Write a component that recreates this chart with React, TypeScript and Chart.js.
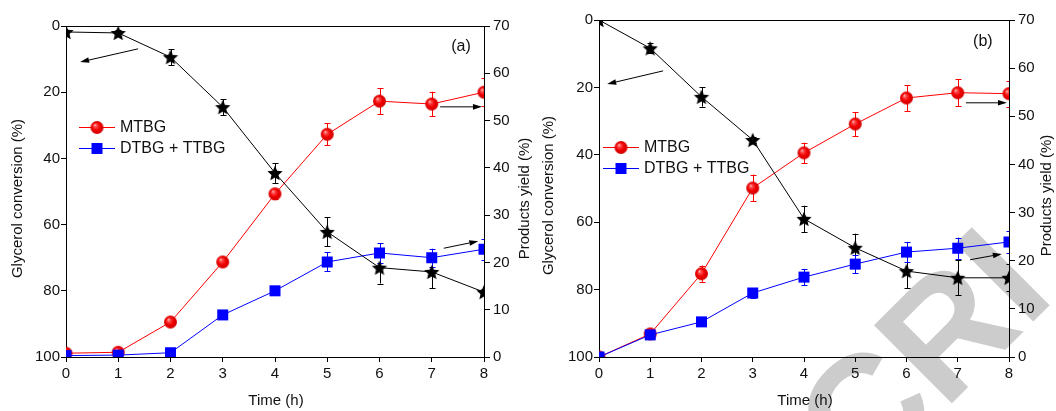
import React, { useEffect, useRef } from "react";
import { Chart, registerables } from "chart.js";
Chart.register(...registerables);

const FONT = "'Liberation Sans', Arial, Helvetica, sans-serif";

// ---------- DATA ----------
const times = [0, 1, 2, 3, 4, 5, 6, 7, 8];
const leftTicks = [0, 20, 40, 60, 80, 100];
const rightTicks = [0, 10, 20, 30, 40, 50, 60, 70];
const seriesNames = ["MTBG", "DTBG + TTBG"];

// Panel (a)
const convA = [1.8, 2.1, 9.4, 24.5, 44.4, 62.2, 73.0, 74.3, 80.4];
const convAErr = [0.5, 0.8, 2.4, 2.4, 3.0, 4.4, 4.8, 5.0, 1.0];
const mtbgA = [0.8, 1.0, 7.4, 20.1, 34.5, 47.1, 54.1, 53.5, 56.0];
const mtbgAErr = [0.3, 0.3, 0.5, 0.8, 1.0, 2.3, 2.8, 2.6, 2.9];
const dtbgA = [0.3, 0.4, 0.9, 8.9, 14.0, 20.1, 22.0, 21.0, 22.8];
const dtbgAErr = [0.2, 0.2, 0.3, 0.6, 0.6, 2.0, 2.1, 1.9, 2.2];

// Panel (b)
const convB = [0.0, 8.4, 22.8, 35.6, 59.0, 67.6, 74.5, 76.5, 76.5];
const convBErr = [0.3, 1.5, 2.9, 1.0, 3.9, 4.2, 5.0, 5.2, 4.0];
const mtbgB = [0.0, 4.8, 17.3, 35.1, 42.4, 48.4, 53.8, 54.9, 54.7];
const mtbgBErr = [0.3, 1.0, 1.7, 2.8, 2.1, 2.5, 2.7, 2.8, 2.7];
const dtbgB = [0.0, 4.6, 7.3, 13.3, 16.6, 19.3, 21.8, 22.6, 23.9];
const dtbgBErr = [0.2, 0.8, 0.8, 1.0, 1.7, 1.9, 2.1, 2.2, 2.3];

// Arrows: [x0, y0, x1, y1, axis] in data units (head at x1,y1)
type Arrow = [number, number, number, number, "y" | "y1"];
const arrowsA: Arrow[] = [
  [1.38, 6.9, 0.27, 10.9, "y"],
  [7.16, 52.9, 7.96, 52.9, "y1"],
  [7.23, 23.0, 7.89, 24.5, "y1"],
];
const arrowsB: Arrow[] = [
  [1.25, 15.1, 0.16, 19.0, "y"],
  [7.16, 52.8, 7.96, 52.8, "y1"],
  [7.24, 20.2, 7.86, 21.4, "y1"],
];

// ---------- marker images ----------
function makeStar(r: number) {
  const s = Math.ceil(r * 2 + 2);
  const c = document.createElement("canvas");
  c.width = s;
  c.height = s;
  const ctx = c.getContext("2d")!;
  ctx.beginPath();
  for (let i = 0; i < 10; i++) {
    const a = -Math.PI / 2 + (i * Math.PI) / 5;
    const rr = i % 2 === 0 ? r : r * 0.46;
    ctx.lineTo(s / 2 + rr * Math.cos(a), s / 2 + 0.8 + rr * Math.sin(a));
  }
  ctx.closePath();
  ctx.fillStyle = "#000";
  ctx.fill();
  return c;
}
function makeSphere(r: number) {
  const s = Math.ceil(r * 2 + 2);
  const c = document.createElement("canvas");
  c.width = s;
  c.height = s;
  const ctx = c.getContext("2d")!;
  const cx = s / 2, cy = s / 2;
  const g = ctx.createRadialGradient(cx - r * 0.35, cy - r * 0.4, 0, cx, cy, r);
  g.addColorStop(0, "#ffe0e0");
  g.addColorStop(0.22, "#ff5050");
  g.addColorStop(0.6, "#f00000");
  g.addColorStop(1, "#d00000");
  ctx.beginPath();
  ctx.arc(cx, cy, r, 0, Math.PI * 2);
  ctx.fillStyle = g;
  ctx.fill();
  return c;
}
function makeSquare(side: number) {
  const s = Math.ceil(side + 2);
  const c = document.createElement("canvas");
  c.width = s;
  c.height = s;
  const ctx = c.getContext("2d")!;
  ctx.fillStyle = "#0000ff";
  ctx.fillRect((s - side) / 2, (s - side) / 2, side, side);
  return c;
}

type PanelCfg = {
  conv: number[]; convErr: number[];
  mtbg: number[]; mtbgErr: number[];
  dtbg: number[]; dtbgErr: number[];
  arrows: Arrow[];
  label: string;
  labelAt: [number, number];
  leftW: number; rightW: number; topPad: number;
  legendX: number; legendY: number;
  leftTitleX: number; rightTitleX: number;
};

function buildChart(canvas: HTMLCanvasElement, cfg: PanelCfg) {
  const star = makeStar(8);
  const sphere = makeSphere(6.5);
  const square = makeSquare(11);
  const pts = (arr: number[]) => times.map((t, i) => ({ x: t, y: arr[i] }));

  const datasets: any[] = [
    {
      label: "conv", data: pts(cfg.conv), yAxisID: "y", borderColor: "#000", borderWidth: 1,
      pointStyle: star, pointRadius: 8, errors: cfg.convErr, errColor: "#000", clip: 0,
    },
    {
      label: seriesNames[1], data: pts(cfg.dtbg), yAxisID: "y1", borderColor: "#0000ff", backgroundColor: "#0000ff",
      borderWidth: 1, pointStyle: square, pointRadius: 6, errors: cfg.dtbgErr, errColor: "#0000ff", clip: 0,
    },
    {
      label: seriesNames[0], data: pts(cfg.mtbg), yAxisID: "y1", borderColor: "#ff0000", backgroundColor: "#ff0000",
      borderWidth: 1, pointStyle: sphere, pointRadius: 6.5, errors: cfg.mtbgErr, errColor: "#ff0000", clip: 0,
    },
  ];

  const errorPlugin = {
    id: "errbars",
    beforeDatasetsDraw(chart: any) {
      const { ctx, chartArea } = chart;
      ctx.save();
      ctx.beginPath();
      ctx.rect(chartArea.left, chartArea.top, chartArea.right - chartArea.left, chartArea.bottom - chartArea.top);
      ctx.clip();
      chart.data.datasets.forEach((ds: any) => {
        const ys = chart.scales[ds.yAxisID];
        const xs = chart.scales.x;
        ctx.strokeStyle = ds.errColor;
        ctx.lineWidth = 1;
        ds.data.forEach((p: any, i: number) => {
          const e = ds.errors[i];
          const px = Math.round(xs.getPixelForValue(p.x)) + 0.5;
          const y0 = ys.getPixelForValue(p.y - e);
          const y1 = ys.getPixelForValue(p.y + e);
          ctx.beginPath();
          ctx.moveTo(px, y0);
          ctx.lineTo(px, y1);
          ctx.moveTo(px - 3, Math.round(y0) + 0.5);
          ctx.lineTo(px + 3, Math.round(y0) + 0.5);
          ctx.moveTo(px - 3, Math.round(y1) + 0.5);
          ctx.lineTo(px + 3, Math.round(y1) + 0.5);
          ctx.stroke();
        });
      });
      ctx.restore();
    },
  };

  const decoPlugin = {
    id: "deco",
    afterDraw(chart: any) {
      const { ctx, chartArea } = chart;
      const xs = chart.scales.x;
      ctx.save();
      // top frame line
      ctx.strokeStyle = "#000";
      ctx.lineWidth = 1;
      ctx.beginPath();
      ctx.moveTo(chartArea.left, chartArea.top + 0.5);
      ctx.lineTo(chartArea.right, chartArea.top + 0.5);
      ctx.stroke();

      // arrows
      ctx.fillStyle = "#000";
      cfg.arrows.forEach((a) => {
        const ys = chart.scales[a[4]];
        const x0 = xs.getPixelForValue(a[0]);
        const y0 = ys.getPixelForValue(a[1]);
        const x1 = xs.getPixelForValue(a[2]);
        const y1 = ys.getPixelForValue(a[3]);
        const ang = Math.atan2(y1 - y0, x1 - x0);
        const hl = 9, hw = 2.8;
        const bx = x1 - hl * Math.cos(ang), by = y1 - hl * Math.sin(ang);
        ctx.beginPath();
        ctx.moveTo(x0, y0);
        ctx.lineTo(bx, by);
        ctx.stroke();
        ctx.beginPath();
        ctx.moveTo(x1, y1);
        ctx.lineTo(bx + hw * Math.sin(ang), by - hw * Math.cos(ang));
        ctx.lineTo(bx - hw * Math.sin(ang), by + hw * Math.cos(ang));
        ctx.closePath();
        ctx.fill();
      });

      // titles
      ctx.fillStyle = "#111";
      ctx.font = `15px ${FONT}`;
      ctx.textAlign = "center";
      ctx.textBaseline = "middle";
      const cy = (chartArea.top + chartArea.bottom) / 2 + 7;
      ctx.save();
      ctx.translate(cfg.leftTitleX, cy);
      ctx.rotate(-Math.PI / 2);
      ctx.fillText("Glycerol conversion (%)", 0, 0);
      ctx.restore();
      ctx.save();
      ctx.translate(cfg.rightTitleX, cy);
      ctx.rotate(-Math.PI / 2);
      ctx.fillText("Products yield (%)", 0, 0);
      ctx.restore();
      ctx.fillText("Time (h)", (chartArea.left + chartArea.right) / 2 + 1, 401);

      // panel label
      ctx.font = `16px ${FONT}`;
      ctx.fillText(cfg.label, xs.getPixelForValue(cfg.labelAt[0]), chart.scales.y.getPixelForValue(cfg.labelAt[1]));

      // legend
      const items = [
        { name: seriesNames[0], color: "#ff0000", img: sphere },
        { name: seriesNames[1], color: "#0000ff", img: square },
      ];
      ctx.textAlign = "left";
      items.forEach((it, k) => {
        const ly = cfg.legendY + k * 21;
        const lx = chartArea.left + cfg.legendX;
        ctx.strokeStyle = it.color;
        ctx.beginPath();
        ctx.moveTo(lx, ly + 0.5);
        ctx.lineTo(lx + 36, ly + 0.5);
        ctx.stroke();
        ctx.drawImage(it.img, lx + 18 - it.img.width / 2, ly - it.img.height / 2 + 0.5);
        ctx.fillStyle = "#111";
        ctx.fillText(it.name, lx + 41, ly + 1);
      });
      ctx.restore();
    },
  };

  const gridCfg = { display: true, drawOnChartArea: false, drawTicks: true, tickLength: 5, color: "#000", lineWidth: 1 };
  const borderCfg = { display: true, color: "#000", width: 1 };
  const tickFont = { family: FONT, size: 15 };

  return new Chart(canvas, {
    type: "line",
    data: { datasets },
    plugins: [errorPlugin, decoPlugin],
    options: {
      animation: false,
      responsive: false,
      events: [],
      layout: { padding: { top: cfg.topPad, left: 0, right: 0, bottom: 0 } },
      plugins: { legend: { display: false }, tooltip: { enabled: false } },
      elements: { line: { tension: 0 } },
      scales: {
        x: {
          type: "linear", min: 0, max: 8,
          afterBuildTicks: (s: any) => { s.ticks = times.map((v) => ({ value: v })); },
          afterFit: (s: any) => { s.height = 54; },
          ticks: { font: tickFont, color: "#111", padding: 3, maxRotation: 0 },
          grid: gridCfg, border: borderCfg,
        },
        y: {
          type: "linear", position: "left", reverse: true, min: 0, max: 100,
          afterBuildTicks: (s: any) => { s.ticks = leftTicks.map((v) => ({ value: v })); },
          afterFit: (s: any) => { s.width = cfg.leftW; },
          ticks: { font: tickFont, color: "#111", padding: 1 },
          grid: gridCfg, border: borderCfg,
        },
        y1: {
          type: "linear", position: "right", min: 0, max: 70,
          afterBuildTicks: (s: any) => { s.ticks = rightTicks.map((v) => ({ value: v })); },
          afterFit: (s: any) => { s.width = cfg.rightW; },
          ticks: { font: tickFont, color: "#111", padding: 3 },
          grid: { ...gridCfg, tickLength: 6 }, border: borderCfg,
        },
      },
    } as any,
  });
}

const panelA: PanelCfg = {
  conv: convA, convErr: convAErr, mtbg: mtbgA, mtbgErr: mtbgAErr, dtbg: dtbgA, dtbgErr: dtbgAErr,
  arrows: arrowsA, label: "(a)", labelAt: [7.56, 6.3],
  leftW: 66, rightW: 56, topPad: 26, legendX: 13, legendY: 127, leftTitleX: 18, rightTitleX: 525,
};
const panelB: PanelCfg = {
  conv: convB, convErr: convBErr, mtbg: mtbgB, mtbgErr: mtbgBErr, dtbg: dtbgB, dtbgErr: dtbgBErr,
  arrows: arrowsB, label: "(b)", labelAt: [7.49, 6.5],
  leftW: 69, rightW: 47, topPad: 20, legendX: 4, legendY: 147, leftTitleX: 19, rightTitleX: 517,
};

export default function App() {
  const refA = useRef<HTMLCanvasElement>(null);
  const refB = useRef<HTMLCanvasElement>(null);
  useEffect(() => {
    const a = buildChart(refA.current!, panelA);
    const b = buildChart(refB.current!, panelB);
    return () => { a.destroy(); b.destroy(); };
  }, []);
  return (
    <div style={{ position: "fixed", left: 0, top: 0, width: 1056, height: 411, overflow: "hidden", background: "#fff" }}>
      <div
        style={{
          position: "absolute", left: 767, top: 397, transform: "rotate(-45deg)", transformOrigin: "0 0",
          fontFamily: FONT, fontWeight: "bold", fontSize: 160, lineHeight: "160px", color: "#cccccc", whiteSpace: "nowrap",
        }}
      >
        CRI
      </div>
      <canvas ref={refA} width={540} height={411} style={{ position: "absolute", left: 0, top: 0, width: 540, height: 411 }} />
      <canvas ref={refB} width={526} height={411} style={{ position: "absolute", left: 530, top: 0, width: 526, height: 411 }} />
    </div>
  );
}
